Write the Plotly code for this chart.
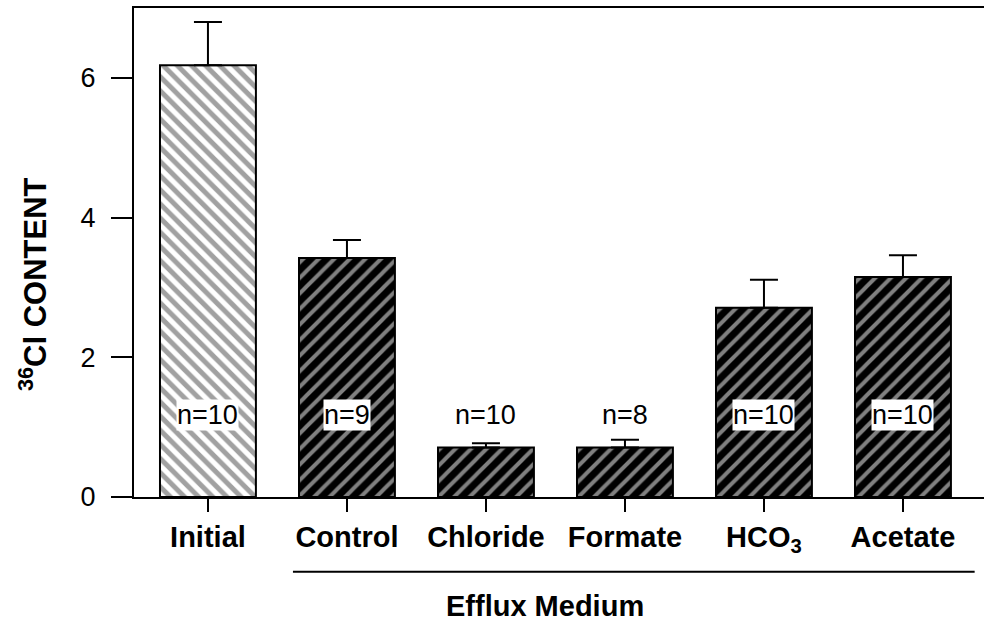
import plotly.graph_objects as go

categories = ["Initial", "Control", "Chloride", "Formate", "HCO<sub>3</sub>", "Acetate"]
means = [6.18, 3.42, 0.71, 0.71, 2.71, 3.15]
err_plus = [0.62, 0.26, 0.06, 0.11, 0.40, 0.31]
n_labels = ["n=10", "n=9", "n=10", "n=8", "n=10", "n=10"]
y_ticks = [0, 2, 4, 6]

FONT = "Liberation Sans, Arial, sans-serif"
xs = list(range(len(categories)))

shapes_p = ["\\"] + ["/"] * 5
fg = ["black"] + ["white"] * 5
bg = ["white"] + ["black"] * 5
sizes = [10] + [11] * 5
solid = [0.5] + [0.36] * 5

fig = go.Figure(go.Bar(
    x=xs, y=means, width=0.69,
    marker=dict(color=bg, line=dict(color="black", width=2),
                pattern=dict(shape=shapes_p, fgcolor=fg, bgcolor=bg,
                             size=sizes, solidity=solid)),
    error_y=dict(type="data", symmetric=False, array=err_plus,
                 arrayminus=[0] * len(means), color="black",
                 thickness=2, width=14),
    hoverinfo="skip",
))

for i, t in enumerate(n_labels):
    fig.add_annotation(x=xs[i], y=1.17, text=t, showarrow=False,
                       font=dict(family=FONT, size=27, color="black"),
                       bgcolor="white", borderpad=0)

fig.add_shape(type="line", xref="paper", yref="paper",
              x0=0.187, x1=0.989, y0=-0.153, y1=-0.153,
              line=dict(color="black", width=2))
fig.add_annotation(xref="paper", yref="paper", x=0.4835, y=-0.223,
                   xanchor="center", yanchor="middle",
                   text="<b>Efflux Medium</b>", showarrow=False,
                   font=dict(family=FONT, size=29, color="black"))
fig.add_annotation(xref="paper", yref="paper", x=-0.1188, y=0.4356,
                   xanchor="center", yanchor="middle", textangle=-90,
                   text="<b><sup>36</sup>Cl CONTENT</b>", showarrow=False,
                   font=dict(family=FONT, size=31, color="black"))

fig.update_layout(
    width=984, height=623,
    margin=dict(l=134, r=0, t=8, b=126),
    paper_bgcolor="white", plot_bgcolor="white",
    showlegend=False,
    font=dict(family=FONT, color="black"),
    xaxis=dict(range=[-0.532, 5.583], tickvals=xs,
               ticktext=["<b>%s</b>" % c for c in categories],
               tickfont=dict(family=FONT, size=29, color="black"),
               showline=True, linecolor="black", linewidth=2, mirror=True,
               ticks="outside", ticklen=13, tickwidth=2, tickcolor="black",
               showgrid=False, zeroline=False),
    yaxis=dict(range=[0, 7], tickvals=y_ticks,
               tickfont=dict(family=FONT, size=27, color="black"),
               showline=True, linecolor="black", linewidth=2,
               ticks="outside", ticklen=21, tickwidth=2, tickcolor="black",
               ticklabelstandoff=10,
               showgrid=False, zeroline=False),
)

fig.write_html("out.html", config={"displayModeBar": False},
               post_script="document.body.style.margin='0';")
